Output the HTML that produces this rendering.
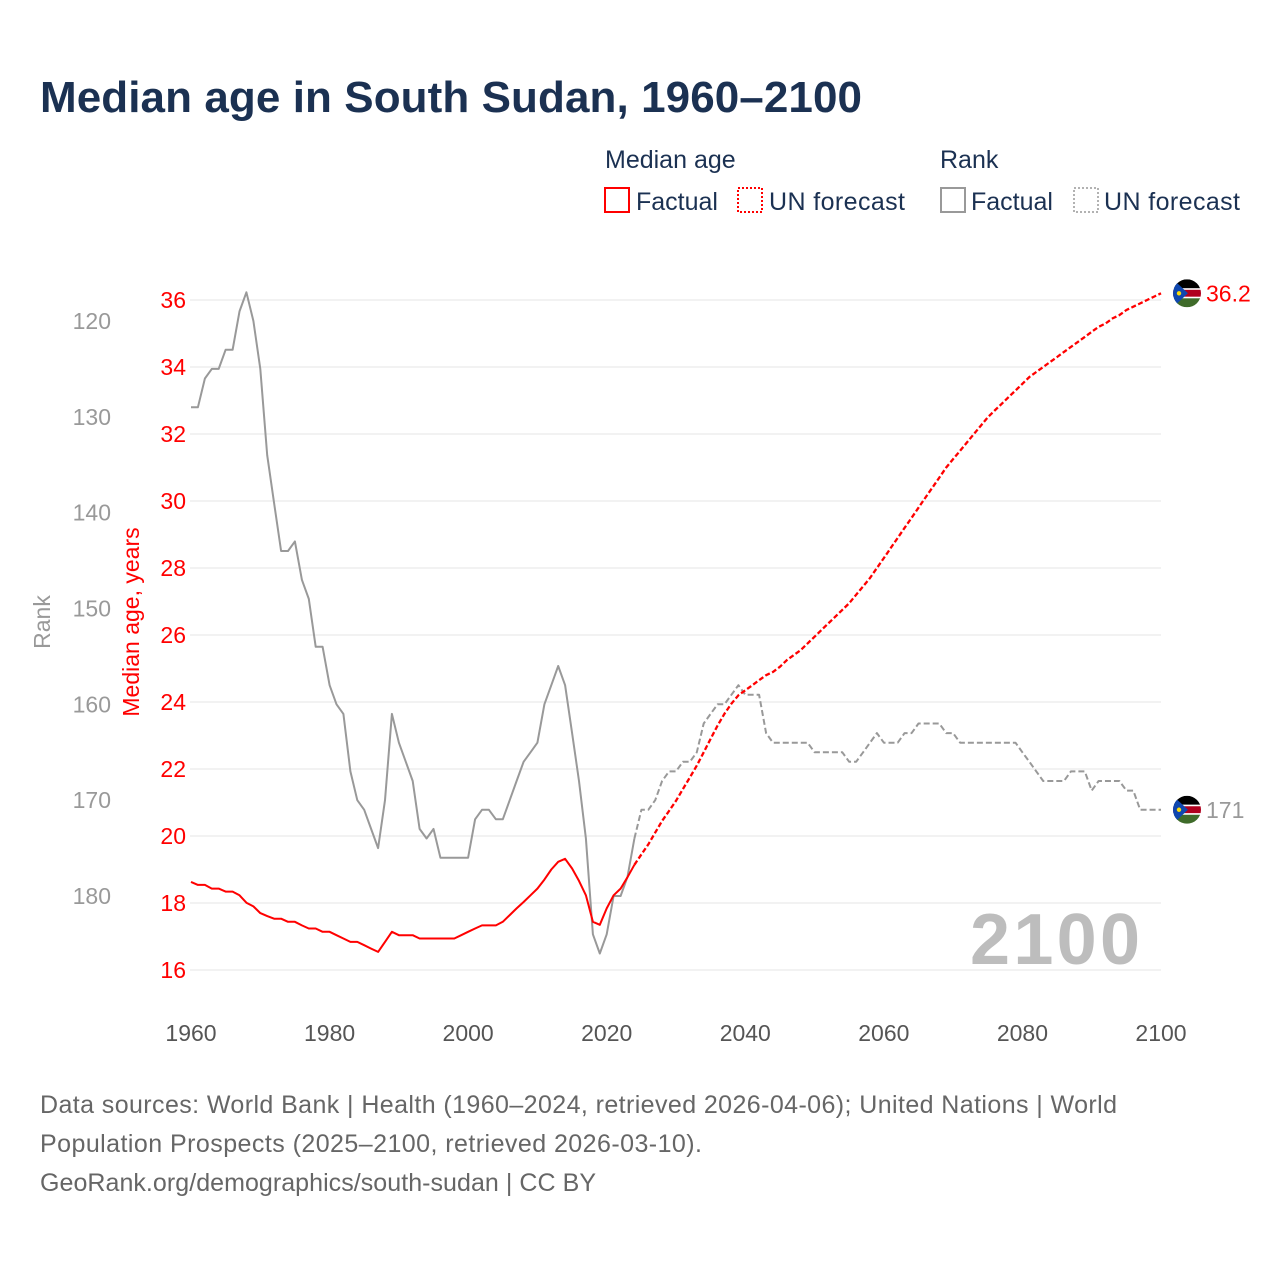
<!DOCTYPE html>
<html><head><meta charset="utf-8"><style>
body{margin:0;background:#fff;}
svg text{font-family:"Liberation Sans",sans-serif;}
</style></head><body>
<svg id="chart" width="1280" height="1280" viewBox="0 0 1280 1280" xmlns="http://www.w3.org/2000/svg">
<rect width="1280" height="1280" fill="#fff"/>
<text x="40" y="112" font-size="44" font-weight="bold" fill="#1b3152" textLength="822">Median age in South Sudan, 1960–2100</text>
<g font-size="25" fill="#1b3152">
<text x="605" y="168" fill="#1b3152">Median age</text>
<text x="940" y="168" fill="#1b3152">Rank</text>
<g><rect x="605" y="188" width="24" height="24" fill="none" stroke="#f00" stroke-width="2"/><text x="636" y="210" fill="#1b3152">Factual</text></g>
<g><rect x="738" y="188" width="24" height="24" fill="none" stroke="#f00" stroke-width="2" stroke-dasharray="2,2"/><text x="769" y="210" fill="#1b3152" textLength="136">UN forecast</text></g>
<g><rect x="941" y="188" width="24" height="24" fill="none" stroke="#999" stroke-width="2"/><text x="971" y="210" fill="#1b3152">Factual</text></g>
<g><rect x="1074" y="188" width="24" height="24" fill="none" stroke="#999" stroke-width="1.5" stroke-dasharray="2,2"/><text x="1104" y="210" fill="#1b3152" textLength="136">UN forecast</text></g>
</g>
<g id="grid"></g>
<g id="axes"></g>
<text x="1140" y="964" font-size="72" font-weight="bold" fill="#bdbdbd" text-anchor="end" textLength="170">2100</text>
<g id="series"></g>
<text transform="translate(50,622) rotate(-90)" font-size="23" fill="#999" text-anchor="middle">Rank</text>
<text transform="translate(139,622) rotate(-90)" font-size="23" fill="#f00" text-anchor="middle">Median age, years</text>
<g font-size="25" fill="#666">
<text x="40" y="1113" textLength="1077">Data sources: World Bank | Health (1960–2024, retrieved 2026-04-06); United Nations | World</text>
<text x="40" y="1152" textLength="662">Population Prospects (2025–2100, retrieved 2026-03-10).</text>
<text x="40" y="1191" textLength="556">GeoRank.org/demographics/south-sudan | CC BY</text>
</g>
</svg>
<script>
const ageFactual = [18.63,18.54,18.54,18.43,18.43,18.34,18.34,18.23,18.01,17.9,17.7,17.61,17.53,17.53,17.44,17.44,17.33,17.24,17.24,17.14,17.14,17.04,16.94,16.84,16.84,16.74,16.64,16.54,16.84,17.14,17.04,17.04,17.04,16.94,16.94,16.94,16.94,16.94,16.94,17.04,17.14,17.24,17.33,17.33,17.33,17.44,17.64,17.84,18.03,18.23,18.43,18.7,19.0,19.23,19.32,19.03,18.66,18.23,17.44,17.35,17.84,18.23,18.43,18.77,19.14];
const ageForecast = [19.45,19.75,20.1,20.45,20.75,21.05,21.4,21.75,22.1,22.5,22.9,23.3,23.65,23.95,24.2,24.35,24.5,24.65,24.8,24.9,25.05,25.25,25.4,25.55,25.75,25.95,26.15,26.35,26.55,26.75,26.95,27.2,27.45,27.7,28.0,28.3,28.6,28.9,29.2,29.5,29.8,30.1,30.4,30.7,31.0,31.25,31.5,31.75,32.0,32.25,32.5,32.7,32.9,33.1,33.3,33.5,33.7,33.85,34.0,34.15,34.3,34.45,34.6,34.75,34.9,35.05,35.2,35.3,35.45,35.55,35.7,35.8,35.9,36.0,36.1,36.2];
const rankFactual = [129,129,126,125,125,123,123,119,117,120,125,134,139,144,144,143,147,149,154,154,158,160,161,167,170,171,173,175,170,161,164,166,168,173,174,173,176,176,176,176,176,172,171,171,172,172,170,168,166,165,164,160,158,156,158,163,168,174,184,186,184,180,180,178,174];
const rankForecast = [171,171,170,168,167,167,166,166,165,162,161,160,160,159,158,159,159,159,163,164,164,164,164,164,164,165,165,165,165,165,166,166,165,164,163,164,164,164,163,163,162,162,162,162,163,163,164,164,164,164,164,164,164,164,164,165,166,167,168,168,168,168,167,167,167,169,168,168,168,168,169,169,171,171,171,171];
const ageTicks = [16,18,20,22,24,26,28,30,32,34,36];
const rankTicks = [120,130,140,150,160,170,180];
const yearTicks = [1960,1980,2000,2020,2040,2060,2080,2100];

const NS='http://www.w3.org/2000/svg';
const xS = y => 191 + (y-1960)*(970/140);
const ageS = v => 300 + (36-v)*33.5;
const rankS = r => 321 + (r-120)*(575/60);
function mk(tag, parent){const e=document.createElementNS(NS,tag);parent.appendChild(e);return e;}
const grid=document.getElementById('grid'), axes=document.getElementById('axes'), series=document.getElementById('series');
ageTicks.forEach(t=>{
  const l=mk('line',grid);
  
  
  l.setAttribute('x1',190);l.setAttribute('x2',1161);l.setAttribute('y1',ageS(t));l.setAttribute('y2',ageS(t));
  l.setAttribute('stroke','#ebebeb');l.setAttribute('stroke-width','1.2');
  const tx=mk('text',axes);
  
  
  tx.setAttribute('x',186);tx.setAttribute('y',ageS(t)+8);tx.setAttribute('text-anchor','end');
  tx.setAttribute('font-size','23');tx.setAttribute('fill','#f00');tx.textContent=t;
});
rankTicks.forEach(t=>{
  const tx=mk('text',axes);
  
  
  tx.setAttribute('x',111);tx.setAttribute('y',rankS(t)+8);tx.setAttribute('text-anchor','end');
  tx.setAttribute('font-size','23');tx.setAttribute('fill','#999');tx.textContent=t;
});
yearTicks.forEach(t=>{
  const tx=mk('text',axes);
  
  
  tx.setAttribute('x',xS(t));tx.setAttribute('y',1041);tx.setAttribute('text-anchor','middle');
  tx.setAttribute('font-size','23');tx.setAttribute('fill','#555');tx.textContent=t;
});
function line(vals, start, scale, color, dash, name, w){
  const p=mk('polyline',series);
  
  
  p.setAttribute('points',vals.map((v,i)=>xS(start+i).toFixed(1)+','+scale(v).toFixed(1)).join(' '));
  p.setAttribute('fill','none');p.setAttribute('stroke',color);p.setAttribute('stroke-width',w||'2');
  p.setAttribute('stroke-linejoin','round');
  if(dash)p.setAttribute('stroke-dasharray',dash);
}
line([rankFactual[rankFactual.length-1]].concat(rankForecast),2024,rankS,'#999','6,3','rank-forecast-line');
line(rankFactual,1960,rankS,'#999',null,'rank-factual-line');
line([ageFactual[ageFactual.length-1]].concat(ageForecast),2024,ageS,'#f00','5,2.5','age-forecast-line','2.3');
line(ageFactual,1960,ageS,'#f00',null,'age-factual-line');
function flag(cy, label, color, name){
  const g=mk('g',series);
  
  
  const cx=1187, r=14, id='c'+Math.round(cy);
  const cp=mk('clipPath',g);cp.setAttribute('id',id);
  const cc=mk('circle',cp);cc.setAttribute('cx',cx);cc.setAttribute('cy',cy);cc.setAttribute('r',r);
  const gg=mk('g',g);gg.setAttribute('clip-path','url(#'+id+')');
  [['#000',-14,9],['#fff',-5,1.5],['#b0001e',-3.5,7],['#fff',3.5,1.5],['#3f6b2a',5,9]].forEach(s=>{
    const rc=mk('rect',gg);rc.setAttribute('x',cx-r);rc.setAttribute('y',cy+s[1]);rc.setAttribute('width',2*r);rc.setAttribute('height',s[2]);rc.setAttribute('fill',s[0]);
  });
  const tri=mk('polygon',gg);tri.setAttribute('points',(cx-r)+','+(cy-r)+' '+(cx+1)+','+cy+' '+(cx-r)+','+(cy+r));tri.setAttribute('fill','#0f47af');
  const st=mk('circle',gg);st.setAttribute('cx',cx-8);st.setAttribute('cy',cy);st.setAttribute('r',2.2);st.setAttribute('fill','#fcdd09');
  const t=mk('text',g);
  t.setAttribute('x',1206);t.setAttribute('y',cy+8);t.setAttribute('font-size','23');t.setAttribute('fill',color);t.textContent=label;
}
flag(ageS(ageForecast[ageForecast.length-1]), String(ageForecast[ageForecast.length-1]), '#f00', 'age-end-label');
flag(rankS(rankForecast[rankForecast.length-1]), String(rankForecast[rankForecast.length-1]), '#999', 'rank-end-label');
</script>
</body></html>
